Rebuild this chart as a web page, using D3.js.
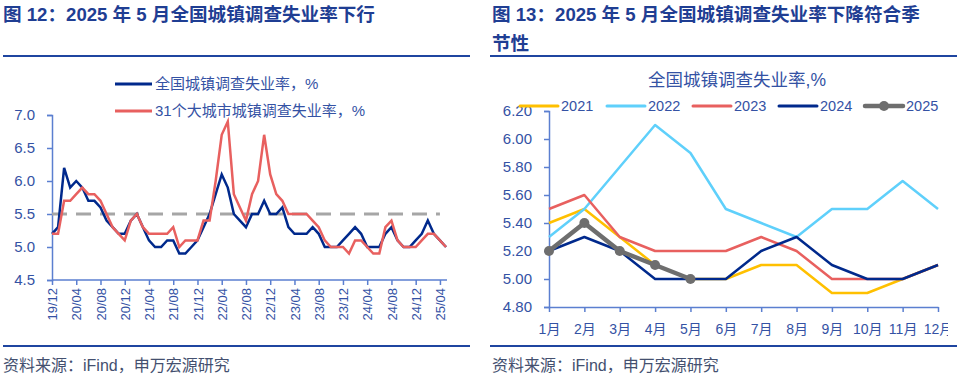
<!DOCTYPE html>
<html>
<head>
<meta charset="utf-8">
<script src="https://cdn.jsdelivr.net/npm/d3@7"></script>
<style>
  body { margin: 0; background: #fff; }
  svg { display: block; font-family: "Liberation Sans", Arial, "Noto Sans CJK SC", sans-serif; }
</style>
</head>
<body>
<svg id="chart" width="960" height="377"></svg>
<script>
// left chart: monthly 2019/12 - 2025/05
var leftMonths = ["19/12",
  "20/01","20/02","20/03","20/04","20/05","20/06","20/07","20/08","20/09","20/10","20/11","20/12",
  "21/01","21/02","21/03","21/04","21/05","21/06","21/07","21/08","21/09","21/10","21/11","21/12",
  "22/01","22/02","22/03","22/04","22/05","22/06","22/07","22/08","22/09","22/10","22/11","22/12",
  "23/01","23/02","23/03","23/04","23/05","23/06","23/07","23/08","23/09","23/10","23/11","23/12",
  "24/01","24/02","24/03","24/04","24/05","24/06","24/07","24/08","24/09","24/10","24/11","24/12",
  "25/01","25/02","25/03","25/04","25/05"];
var nationalRate = [5.2,
  5.3,6.2,5.9,6.0,5.9,5.7,5.7,5.6,5.4,5.3,5.2,5.2,
  5.4,5.5,5.3,5.1,5.0,5.0,5.1,5.1,4.9,4.9,5.0,5.1,
  5.3,5.5,5.8,6.1,5.9,5.5,5.4,5.3,5.5,5.5,5.7,5.5,
  5.5,5.6,5.3,5.2,5.2,5.2,5.3,5.2,5.0,5.0,5.0,5.1,
  5.2,5.3,5.2,5.0,5.0,5.0,5.2,5.3,5.1,5.0,5.0,5.1,
  5.2,5.4,5.2,5.1,5.0];
var cityRate = [5.2,
  5.2,5.7,5.7,5.8,5.9,5.8,5.8,5.7,5.5,5.3,5.2,5.1,
  5.4,5.5,5.3,5.2,5.2,5.2,5.2,5.3,5.0,5.1,5.1,5.1,
  5.4,5.4,6.0,6.7,6.9,5.8,5.6,5.4,5.8,6.0,6.7,6.1,
  5.8,5.7,5.5,5.5,5.5,5.5,5.4,5.3,5.1,5.0,5.0,5.0,
  4.9,5.1,5.1,5.0,4.9,4.9,5.3,5.4,5.1,5.0,5.0,5.0,
  5.1,5.2,5.2,5.1,5.0];
var refLevel = 5.5;
var leftTicks = [4.5,5.0,5.5,6.0,6.5,7.0];

// right chart: by calendar month
var monthLabels = ["1月","2月","3月","4月","5月","6月","7月","8月","9月","10月","11月","12月"];
var years = ["2021","2022","2023","2024","2025"];
var y2021 = [5.4,5.5,5.3,5.1,5.0,5.0,5.1,5.1,4.9,4.9,5.0,5.1];
var y2022 = [5.3,5.5,5.8,6.1,5.9,5.5,5.4,5.3,5.5,5.5,5.7,5.5];
var y2023 = [5.5,5.6,5.3,5.2,5.2,5.2,5.3,5.2,5.0,5.0,5.0,5.1];
var y2024 = [5.2,5.3,5.2,5.0,5.0,5.0,5.2,5.3,5.1,5.0,5.0,5.1];
var y2025 = [5.2,5.4,5.2,5.1,5.0];
var rightTicks = [4.8,5.0,5.2,5.4,5.6,5.8,6.0,6.2];

var titleColor = "#1f3e93", tickColor = "#3452a4", axisColor = "#5b7fd0";
var svg = d3.select("#chart");

// ---------- titles, rules, source ----------
function header(x, lines, x1, x2) {
  lines.forEach(function(t, i) {
    svg.append("text").attr("x", x).attr("y", 21 + i * 29)
      .attr("font-size", "18.6px").attr("font-weight", "bold")
      .attr("fill", titleColor).text(t);
  });
  svg.append("line").attr("x1", x1).attr("x2", x2).attr("y1", 56).attr("y2", 56)
    .attr("stroke", "#1f45a0").attr("stroke-width", 2.2);
  svg.append("line").attr("x1", x1).attr("x2", x2).attr("y1", 346).attr("y2", 346)
    .attr("stroke", "#1f45a0").attr("stroke-width", 2.2);
  svg.append("text").attr("x", x).attr("y", 371).attr("font-size", "16px")
    .attr("fill", "#44506f").text("资料来源：iFind，申万宏源研究");
}
header(3, ["图 12：2025 年 5 月全国城镇调查失业率下行"], 3, 470);
header(492, ["图 13：2025 年 5 月全国城镇调查失业率下降符合季", "节性"], 490, 957);

// ---------- left chart ----------
var xL = d3.scaleLinear().domain([0, leftMonths.length - 1]).range([52, 446]);
var yL = d3.scaleLinear().domain([4.5, 7.0]).range([280, 115]);

var gLy = svg.append("g").attr("transform", "translate(52,0)")
  .call(d3.axisLeft(yL).tickValues(leftTicks).tickFormat(d3.format(".1f")).tickSize(5).tickPadding(12));
var gLx = svg.append("g").attr("transform", "translate(0,280)")
  .call(d3.axisBottom(xL).tickValues(d3.range(0, leftMonths.length, 4))
    .tickFormat(function(i) { return leftMonths[i]; }).tickSize(5).tickSizeOuter(0));
gLx.select(".domain").attr("d", "M52,0H447");
gLx.selectAll("text").attr("transform", "rotate(-90)").attr("text-anchor", "end")
  .attr("x", -8).attr("y", 0).attr("dy", "0.35em").attr("font-size", "13px");
gLy.selectAll("text").attr("font-size", "15px");
[gLx, gLy].forEach(function(g) {
  g.select(".domain").attr("stroke", axisColor).attr("stroke-width", 1.5);
  g.selectAll(".tick line").attr("stroke", axisColor).attr("stroke-width", 1.5);
  g.selectAll("text").attr("fill", tickColor).attr("font-family", "Liberation Sans, Arial, sans-serif");
});

svg.append("line").attr("x1", xL(0)).attr("x2", xL(64)).attr("y1", yL(refLevel)).attr("y2", yL(refLevel))
  .attr("stroke", "#a6a6a6").attr("stroke-width", 3).attr("stroke-dasharray", "15,9");

var lineL = d3.line().x(function(d, i) { return xL(i); }).y(function(d) { return yL(d); });
svg.append("path").datum(nationalRate).attr("d", lineL)
  .attr("fill", "none").attr("stroke", "#00298c").attr("stroke-width", 2.5);
svg.append("path").datum(cityRate).attr("d", lineL)
  .attr("fill", "none").attr("stroke", "#e8605f").attr("stroke-width", 2.5);

var legL = [["全国城镇调查失业率，%", "#00298c"], ["31个大城市城镇调查失业率，%", "#e8605f"]];
legL.forEach(function(d, i) {
  var y = 84 + i * 27;
  svg.append("line").attr("x1", 115).attr("x2", 152).attr("y1", y).attr("y2", y)
    .attr("stroke", d[1]).attr("stroke-width", 3);
  svg.append("text").attr("x", 155).attr("y", y).attr("dy", "0.35em")
    .attr("font-size", "15px").attr("fill", tickColor).text(d[0]);
});

// ---------- right chart ----------
var clip = svg.append("clipPath").attr("id", "rclip");
clip.append("rect").attr("x", 480).attr("y", 60).attr("width", 468).attr("height", 280);
var gR = svg.append("g").attr("clip-path", "url(#rclip)");

var xR = d3.scalePoint().domain(monthLabels).range([549, 938]);
var yR = d3.scaleLinear().domain([4.8, 6.2]).range([307, 111]);

svg.append("text").attr("x", 737).attr("y", 80).attr("dy", "0.35em").attr("text-anchor", "middle")
  .attr("font-size", "17.5px").attr("fill", tickColor).text("全国城镇调查失业率,%");

var gRy = gR.append("g").attr("transform", "translate(549,0)")
  .call(d3.axisLeft(yR).tickValues(rightTicks).tickFormat(d3.format(".2f")).tickSize(5).tickPadding(12));
var gRx = gR.append("g").attr("transform", "translate(0,307)")
  .call(d3.axisBottom(xR).tickSize(5).tickSizeOuter(0).tickPadding(12));
gRx.selectAll("text").attr("font-size", "14px").attr("font-family", "Liberation Sans, Arial, Noto Sans CJK SC, sans-serif");
gRy.selectAll("text").attr("font-size", "15px").attr("font-family", "Liberation Sans, Arial, sans-serif");
[gRx, gRy].forEach(function(g) {
  g.select(".domain").attr("stroke", axisColor).attr("stroke-width", 1.5);
  g.selectAll(".tick line").attr("stroke", axisColor).attr("stroke-width", 1.5);
  g.selectAll("text").attr("fill", tickColor);
});

var series = [
  { name: years[0], values: y2021, color: "#ffc000", width: 2.5 },
  { name: years[1], values: y2022, color: "#5fd0fb", width: 2.5 },
  { name: years[2], values: y2023, color: "#e8605f", width: 2.5 },
  { name: years[3], values: y2024, color: "#00298c", width: 2.5 },
  { name: years[4], values: y2025, color: "#6e6e6e", width: 4.5, marker: true }
];
var lineR = d3.line().x(function(d, i) { return xR(monthLabels[i]); }).y(function(d) { return yR(d); });
series.forEach(function(s) {
  gR.append("path").datum(s.values).attr("d", lineR)
    .attr("fill", "none").attr("stroke", s.color).attr("stroke-width", s.width)
    .attr("stroke-linejoin", "round");
  if (s.marker) {
    gR.selectAll(null).data(s.values).enter().append("circle")
      .attr("cx", function(d, i) { return xR(monthLabels[i]); })
      .attr("cy", function(d) { return yR(d); })
      .attr("r", 5).attr("fill", s.color);
  }
});

var legX = [520, 607, 693, 779, 865];
series.forEach(function(s, i) {
  var x = legX[i], y = 106;
  svg.append("line").attr("x1", x).attr("x2", x + 38).attr("y1", y).attr("y2", y)
    .attr("stroke", s.color).attr("stroke-width", s.marker ? 4.5 : 3).attr("stroke-linecap", "round");
  if (s.marker) svg.append("circle").attr("cx", x + 19).attr("cy", y).attr("r", 5).attr("fill", s.color);
  svg.append("text").attr("x", x + 41).attr("y", y).attr("dy", "0.35em")
    .attr("font-size", "14.5px").attr("fill", tickColor).text(s.name);
});
</script>
</body>
</html>
